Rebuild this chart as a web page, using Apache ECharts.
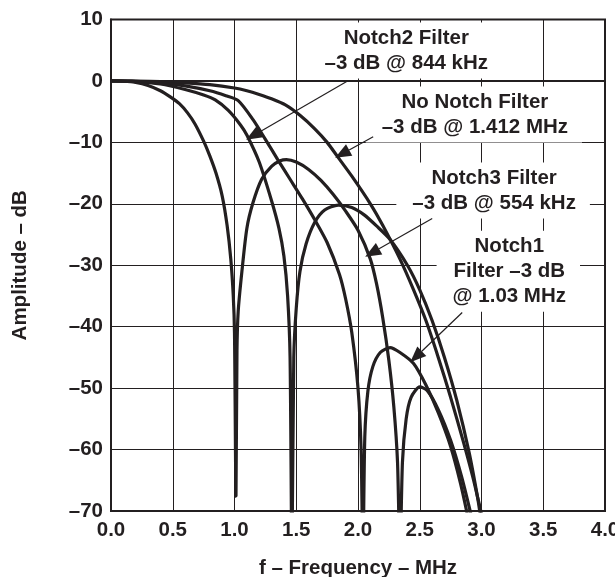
<!DOCTYPE html>
<html><head><meta charset="utf-8">
<script src="https://cdn.jsdelivr.net/npm/echarts@6/dist/echarts.min.js"></script>
<style>html,body{margin:0;padding:0;background:#fff}#c{width:615px;height:577px}</style>
</head><body><div id="c"></div>
<script>
// ---- axis settings (data units) ----
const xMin = 0, xMax = 4, xStep = 0.5;
const yMin = -70, yMax = 10, yStep = 10;

// ---- series: [frequency MHz, amplitude dB] ----
const noNotch = [[0,0],[0.2,-0.02],[0.4,-0.1],[0.6,-0.3],[0.8,-0.6],[1.0,-1.15],[1.1,-1.6],[1.2,-2.2],[1.3,-2.9],[1.412,-3.9],[1.53,-5.6],[1.65,-7.8],[1.75,-10],[1.83,-12.2],[1.95,-15.5],[2.1,-20],[2.2,-23.5],[2.34,-29],[2.45,-34],[2.55,-39],[2.65,-45],[2.75,-51.5],[2.85,-58.5],[2.93,-64.5],[3.0,-70.5]];
const notch1 = [[0,0],[0.2,-0.05],[0.4,-0.3],[0.6,-0.8],[0.8,-1.6],[0.93,-2.4],[1.03,-3.2],[1.15,-6.3],[1.25,-9.5],[1.35,-12.8],[1.45,-16],[1.55,-19.2],[1.65,-22.6],[1.75,-26.3],[1.85,-31.5],[1.9,-35.5],[1.95,-41],[2.0,-50],[2.025,-60],[2.04,-78],[2.055,-58],[2.08,-50.5],[2.12,-46.5],[2.18,-44.2],[2.26,-43.4],[2.34,-44.2],[2.45,-46],[2.55,-49.5],[2.65,-54],[2.75,-59.5],[2.83,-65.5],[2.89,-71]];
const notch2 = [[0,0],[0.2,-0.1],[0.4,-0.5],[0.6,-1.4],[0.75,-2.3],[0.844,-3.1],[0.95,-4.8],[1.05,-7.2],[1.1,-8.8],[1.2,-13.2],[1.3,-19.5],[1.36,-24],[1.4,-28.5],[1.43,-35],[1.45,-45],[1.465,-78],[1.48,-45],[1.5,-37],[1.53,-31],[1.58,-26.5],[1.65,-23],[1.73,-21],[1.84,-20.2],[1.95,-20.6],[2.05,-21.8],[2.15,-23.6],[2.26,-25.8],[2.4,-30],[2.5,-34],[2.6,-39],[2.7,-45],[2.8,-52],[2.9,-60.5],[2.97,-68],[3.0,-72]];
const notch3 = [[0,0],[0.1,-0.05],[0.2,-0.25],[0.3,-0.75],[0.4,-1.6],[0.48,-2.6],[0.554,-3.7],[0.62,-5.2],[0.68,-7],[0.75,-9.8],[0.8,-12.2],[0.85,-15],[0.9,-18.7],[0.94,-23.5],[0.97,-29],[0.99,-35],[1.0,-41],[1.012,-67.6],[1.02,-44],[1.03,-37.5],[1.06,-31],[1.1,-24],[1.15,-19.8],[1.22,-16],[1.3,-13.9],[1.37,-13],[1.42,-12.8],[1.5,-13.2],[1.6,-14.4],[1.7,-16.2],[1.8,-18.5],[1.9,-21.2],[2.0,-24.3],[2.1,-29],[2.15,-33],[2.2,-38.5],[2.25,-45.5],[2.29,-53],[2.32,-62],[2.34,-78],[2.36,-62],[2.39,-55],[2.43,-51.5],[2.5,-49.8],[2.56,-50.4],[2.65,-53.5],[2.75,-58.5],[2.84,-64.5],[2.92,-71]];

// ---- annotation texts, anchored in data units ----
const labelNotch2 = ['Notch2 Filter', '\u20133 dB @ 844 kHz'];
const labelNoNotch = ['No Notch Filter', '\u20133 dB @ 1.412 MHz'];
const labelNotch3 = ['Notch3 Filter', '\u20133 dB @ 554 kHz'];
const labelNotch1 = ['Notch1', 'Filter \u20133 dB', '@ 1.03 MHz'];
const labelCenters = [[2.383, 4.96], [2.938, -5.48], [3.094, -17.85], [3.217, -30.98]];
const arrowTails = [[1.919, 0.03], [2.123, -9.07], [2.601, -22.4], [2.844, -37.7]];
const arrowTips = [[1.094, -9.56], [1.815, -12.49], [2.058, -28.6], [2.423, -45.8]];

const FONT = '"Liberation Sans", Arial, Helvetica, sans-serif';
const FS = 20.5;
const INK = '#231f20';

const chart = echarts.init(document.getElementById('c'), null, {renderer: 'canvas'});
const lineStyle = {color: INK, width: 3.2};
function mk(name, data) {
  return {name, type: 'line', data, showSymbol: false, symbol: 'none', smooth: 0.25,
          lineStyle, clip: true, z: 3};
}
const option = {
  animation: false,
  backgroundColor: '#fff',
  grid: {left: 111, right: 10, top: 19.5, bottom: 66, containLabel: false, outerBoundsMode: 'none',
         show: true, borderColor: INK, borderWidth: 2, backgroundColor: 'transparent'},
  xAxis: {
    type: 'value', min: xMin, max: xMax, interval: xStep,
    name: 'f \u2013 Frequency \u2013 MHz', nameLocation: 'middle', nameGap: 47,
    nameTextStyle: {fontFamily: FONT, fontWeight: 'bold', fontSize: FS, color: INK},
    axisLine: {show: true, lineStyle: {color: INK, width: 2}},
    axisTick: {show: false},
    axisLabel: {fontFamily: FONT, fontWeight: 'bold', fontSize: FS, color: INK, margin: 9,
                formatter: v => v.toFixed(1)},
    splitLine: {show: true, lineStyle: {color: INK, width: 1}}
  },
  yAxis: {
    type: 'value', min: yMin, max: yMax, interval: yStep,
    name: 'Amplitude \u2013 dB', nameLocation: 'middle', nameGap: 80,
    nameTextStyle: {fontFamily: FONT, fontWeight: 'bold', fontSize: FS, color: INK},
    axisLine: {show: true, lineStyle: {color: INK, width: 2}},
    axisTick: {show: false},
    axisLabel: {fontFamily: FONT, fontWeight: 'bold', fontSize: FS, color: INK, margin: 8,
                formatter: v => v < 0 ? '\u2013' + Math.abs(v) : String(v)},
    splitLine: {show: true, lineStyle: {color: INK, width: 1}}
  },
  series: [mk('No Notch', noNotch), mk('Notch1', notch1), mk('Notch2', notch2), mk('Notch3', notch3)]
};
chart.setOption(option);

const labels = [labelNotch2, labelNoNotch, labelNotch3, labelNotch1];
const toPx = p => chart.convertToPixel({xAxisIndex: 0, yAxisIndex: 0}, p);
const elems = [];
labels.forEach((lines, i) => {
  const c = toPx(labelCenters[i]);
  elems.push({type: 'text', z: 1, silent: true,
    style: {text: lines.join('\n'), x: c[0], y: c[1], align: 'center', verticalAlign: 'middle',
            font: 'bold ' + FS + 'px ' + FONT, fill: INK, lineHeight: 25,
            backgroundColor: '#fff', padding: [3, 14, 3, 16]}});
  const s = toPx(arrowTails[i]), t = toPx(arrowTips[i]);
  const dx = t[0] - s[0], dy = t[1] - s[1], len = Math.hypot(dx, dy);
  const ux = dx / len, uy = dy / len, L = 16, W = 6.5;
  const bx = t[0] - ux * L, by = t[1] - uy * L;
  elems.push({type: 'line', z: 5, silent: true, shape: {x1: s[0], y1: s[1], x2: bx, y2: by},
              style: {stroke: INK, lineWidth: 1.2}});
  elems.push({type: 'polygon', z: 5, silent: true,
              shape: {points: [[t[0], t[1]], [bx - uy * W, by + ux * W], [bx + uy * W, by - ux * W]]},
              style: {fill: INK}});
});
chart.setOption({graphic: {elements: elems}});
</script></body></html>
